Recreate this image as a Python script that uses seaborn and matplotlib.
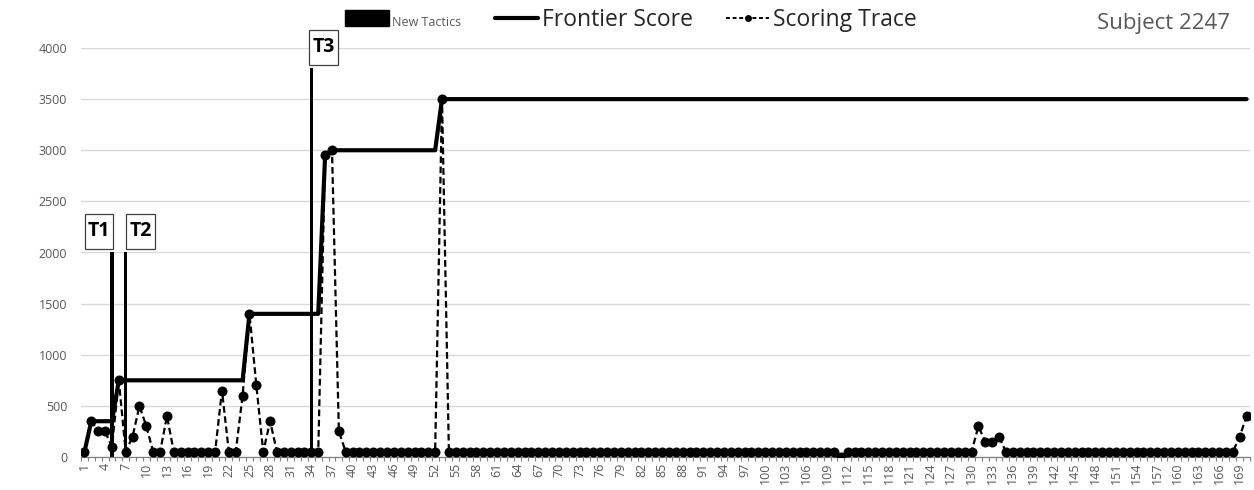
import matplotlib
matplotlib.use("Agg")
import matplotlib.pyplot as plt
from matplotlib.lines import Line2D
from matplotlib.patches import Patch
from matplotlib.path import Path
from matplotlib.ticker import FixedLocator, NullFormatter
import numpy as np
import pandas as pd
import seaborn as sns

# Attempt number for every scored event
attempts = list(range(1, 171))

# Points scored on each attempt
scoring_trace = [
    50, 350, 250, 250, 100, 750, 50, 200, 500, 300,
    50, 50, 400, 50, 50, 50, 50, 50, 50, 50,
    650, 50, 50, 600, 1400, 700, 50, 350, 50, 50,
    50, 50, 50, 50, 50, 2950, 3000, 250, 50, 50,
    50, 50, 50, 50, 50, 50, 50, 50, 50, 50,
    50, 50, 3500, 50, 50, 50, 50, 50, 50, 50,
    50, 50, 50, 50, 50, 50, 50, 50, 50, 50,
    50, 50, 50, 50, 50, 50, 50, 50, 50, 50,
    50, 50, 50, 50, 50, 50, 50, 50, 50, 50,
    50, 50, 50, 50, 50, 50, 50, 50, 50, 50,
    50, 50, 50, 50, 50, 50, 50, 50, 50, 50,
    0, 50, 50, 50, 50, 50, 50, 50, 50, 50,
    50, 50, 50, 50, 50, 50, 50, 50, 50, 50,
    300, 150, 150, 200, 50, 50, 50, 50, 50, 50,
    50, 50, 50, 50, 50, 50, 50, 50, 50, 50,
    50, 50, 50, 50, 50, 50, 50, 50, 50, 50,
    50, 50, 50, 50, 50, 50, 50, 50, 200, 400,
]

# Best score reached so far
frontier_score = [
    50, 350, 350, 350, 350, 750, 750, 750, 750, 750,
    750, 750, 750, 750, 750, 750, 750, 750, 750, 750,
    750, 750, 750, 750, 1400, 1400, 1400, 1400, 1400, 1400,
    1400, 1400, 1400, 1400, 1400, 2950, 3000, 3000, 3000, 3000,
    3000, 3000, 3000, 3000, 3000, 3000, 3000, 3000, 3000, 3000,
    3000, 3000, 3500, 3500, 3500, 3500, 3500, 3500, 3500, 3500,
    3500, 3500, 3500, 3500, 3500, 3500, 3500, 3500, 3500, 3500,
    3500, 3500, 3500, 3500, 3500, 3500, 3500, 3500, 3500, 3500,
    3500, 3500, 3500, 3500, 3500, 3500, 3500, 3500, 3500, 3500,
    3500, 3500, 3500, 3500, 3500, 3500, 3500, 3500, 3500, 3500,
    3500, 3500, 3500, 3500, 3500, 3500, 3500, 3500, 3500, 3500,
    3500, 3500, 3500, 3500, 3500, 3500, 3500, 3500, 3500, 3500,
    3500, 3500, 3500, 3500, 3500, 3500, 3500, 3500, 3500, 3500,
    3500, 3500, 3500, 3500, 3500, 3500, 3500, 3500, 3500, 3500,
    3500, 3500, 3500, 3500, 3500, 3500, 3500, 3500, 3500, 3500,
    3500, 3500, 3500, 3500, 3500, 3500, 3500, 3500, 3500, 3500,
    3500, 3500, 3500, 3500, 3500, 3500, 3500, 3500, 3500, 3500,
]

# New tactics introduced
tactic_attempts = [5, 7, 34]
tactic_heights = [2000, 2000, 3800]
tactic_labels = ["T1", "T2", "T3"]

subject_label = "Subject 2247"
y_ticks = [0, 500, 1000, 1500, 2000, 2500, 3000, 3500, 4000]

sns.set_theme(style="white")
plt.rcParams["font.family"] = ["Open Sans", "DejaVu Sans"]

GREY = "#595959"
PX = 0.72  # points per pixel at 100 dpi


def label_box(x0, y0, width, height, mutation_size):
    """Rectangular frame with more padding above/below than at the sides."""
    pad_x = mutation_size * 0.16
    pad_y = mutation_size * 0.38
    x0, y0 = x0 - pad_x, y0 - pad_y
    x1, y1 = x0 + width + 2 * pad_x, y0 + height + 2 * pad_y
    return Path([(x0, y0), (x1, y0), (x1, y1), (x0, y1), (x0, y0)],
                closed=True)


df = pd.DataFrame({
    "pos": [a - 1 for a in attempts],
    "trace": scoring_trace,
    "frontier": frontier_score,
})

fig = plt.figure(figsize=(12.54, 4.90), dpi=100)
ax = fig.add_axes([81 / 1254, 1 - 457 / 490, (1250 - 81) / 1254, (457 - 48) / 490])

# horizontal gridlines
ax.set_yticks(y_ticks)
ax.set_ylim(0, 4000)
ax.yaxis.grid(True, color="#d9d9d9", linewidth=1.0)
ax.set_axisbelow(True)

# tactic markers as narrow columns
tac_pos = [a - 1 for a in tactic_attempts]
ax.bar(tac_pos, tactic_heights, width=0.5, facecolor="black",
       edgecolor="none", linewidth=0, zorder=2)

sns.lineplot(data=df, x="pos", y="frontier", ax=ax, color="black",
             linewidth=3.0, zorder=3, legend=False)
sns.lineplot(data=df, x="pos", y="trace", ax=ax, color="black",
             linewidth=1.6, linestyle=(0, (3, 1.6)), marker="o",
             markersize=7.2, markeredgewidth=0, zorder=4, legend=False)

# boxed tactic labels (offsets in pixels)
offsets_px = [-13, 15, 12]
for p, h, lab, dx in zip(tac_pos, tactic_heights, tactic_labels, offsets_px):
    ax.annotate(lab, xy=(p, h), xytext=(dx * PX, 11 * PX),
                textcoords="offset points", ha="center", va="bottom",
                fontsize=14, fontweight="bold", color="black",
                bbox=dict(boxstyle=label_box, fc="white",
                          ec="#404040", lw=0.9),
                zorder=5, annotation_clip=False)

ax.set_xlim(-0.5, len(attempts) - 0.5)
label_pos = [a - 1 for a in attempts[::3]]
ax.set_xticks(label_pos)
ax.set_xticklabels([str(a) for a in attempts[::3]], rotation=90,
                   fontsize=9, color=GREY)
ax.xaxis.set_minor_locator(FixedLocator(np.arange(-0.5, len(attempts), 1.0)))
ax.xaxis.set_minor_formatter(NullFormatter())
ax.tick_params(axis="x", which="major", length=0, pad=4)
ax.tick_params(axis="x", which="minor", length=3, width=0.8, color="#808080",
               bottom=True, direction="out")
ax.tick_params(axis="y", length=0, labelsize=9, labelcolor=GREY, pad=10)
ax.set_yticklabels([str(v) for v in y_ticks])

for side in ["top", "right", "left"]:
    ax.spines[side].set_visible(False)
ax.spines["bottom"].set_color("#808080")
ax.spines["bottom"].set_linewidth(0.9)
ax.set_xlabel("")
ax.set_ylabel("")

handles = [
    Patch(facecolor="black", edgecolor="black"),
    Line2D([], [], color="black", linewidth=3.0),
    Line2D([], [], color="black", linewidth=1.4, linestyle=(0, (2, 1.4)),
           marker="o", markersize=5, markeredgewidth=0),
]
leg = fig.legend(handles, ["New Tactics", "Frontier Score", "Scoring Trace"],
                 loc="center", bbox_to_anchor=(631 / 1254, 1 - 20 / 490),
                 ncol=3, frameon=False, fontsize=16.5, handlelength=1.9,
                 handleheight=0.7, handletextpad=0.15, columnspacing=1.45)
texts = leg.get_texts()
texts[0].set_fontsize(9)
texts[0].set_color(GREY)

fig.text(1230 / 1254, 1 - 23 / 490, subject_label, ha="right", va="center",
         fontsize=16, color=GREY)

fig.savefig("out.png", dpi=100, facecolor="white")
